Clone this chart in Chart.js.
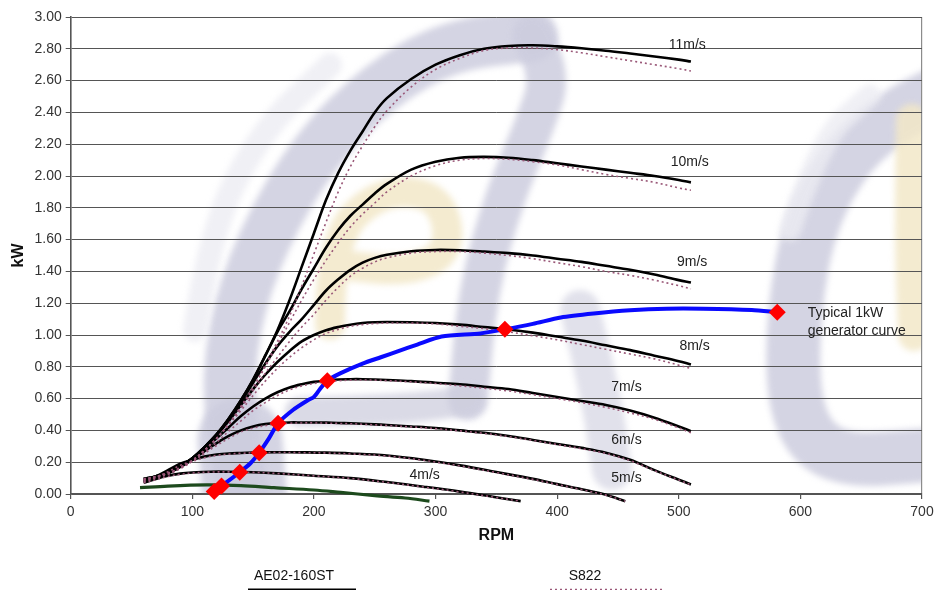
<!DOCTYPE html>
<html>
<head>
<meta charset="utf-8">
<script src="https://cdn.jsdelivr.net/npm/chart.js@4.4.1/dist/chart.umd.min.js"></script>
<style>
  html, body { margin: 0; padding: 0; background: #ffffff; }
  #wrap { width: 936px; height: 590px; position: relative; }
</style>
</head>
<body>
<div id="wrap"><canvas id="c" width="936" height="590"></canvas></div>
<script>
// Rotor speed grid (RPM) shared by the 6–11 m/s power curves
const rpmGrid = [60,70,80,90,100,110,120,130,140,150,160,170,180,190,200,210,220,230,240,250,260,280,300,320,340,360,380,400,420,440,460,480,500,510];

// AE02-160ST rotor power (kW) at each wind speed
const ae11 = [0.095,0.11,0.135,0.175,0.225,0.295,0.375,0.475,0.59,0.72,0.87,1.03,1.22,1.43,1.64,1.85,2.02,2.16,2.28,2.40,2.49,2.61,2.70,2.76,2.80,2.818,2.822,2.815,2.803,2.788,2.77,2.752,2.732,2.72];
const ae10 = [0.095,0.11,0.135,0.175,0.225,0.295,0.375,0.475,0.59,0.72,0.87,1.02,1.15,1.29,1.42,1.55,1.66,1.75,1.82,1.89,1.95,2.04,2.09,2.115,2.12,2.115,2.10,2.08,2.06,2.04,2.02,2.00,1.975,1.96];
const ae9  = [0.09,0.11,0.135,0.175,0.225,0.295,0.375,0.47,0.58,0.70,0.82,0.93,1.02,1.10,1.19,1.28,1.35,1.41,1.455,1.485,1.505,1.527,1.535,1.533,1.525,1.515,1.50,1.48,1.46,1.435,1.41,1.38,1.345,1.33];
const ae8  = [0.09,0.11,0.135,0.175,0.225,0.29,0.37,0.46,0.56,0.66,0.75,0.83,0.90,0.96,1.00,1.03,1.05,1.065,1.075,1.08,1.082,1.08,1.075,1.065,1.05,1.035,1.015,0.99,0.965,0.935,0.905,0.87,0.835,0.815];
const ae7  = [0.085,0.105,0.13,0.17,0.22,0.28,0.35,0.42,0.49,0.55,0.60,0.64,0.67,0.69,0.705,0.713,0.72,0.722,0.722,0.72,0.717,0.71,0.70,0.69,0.675,0.66,0.635,0.61,0.585,0.56,0.525,0.48,0.425,0.395];
const ae6  = [0.08,0.10,0.13,0.17,0.215,0.27,0.32,0.365,0.40,0.425,0.44,0.447,0.45,0.45,0.45,0.449,0.447,0.445,0.442,0.438,0.434,0.425,0.415,0.40,0.385,0.365,0.34,0.315,0.29,0.26,0.215,0.15,0.09,0.06];

// S822 aerofoil rotor power (kW) at each wind speed
const s11 = [0.095,0.11,0.13,0.165,0.21,0.275,0.35,0.44,0.55,0.67,0.81,0.96,1.12,1.31,1.51,1.71,1.90,2.06,2.19,2.31,2.41,2.56,2.67,2.74,2.79,2.805,2.805,2.795,2.775,2.75,2.725,2.70,2.675,2.66];
const s10 = [0.095,0.11,0.13,0.165,0.21,0.275,0.35,0.44,0.55,0.67,0.80,0.94,1.08,1.22,1.35,1.47,1.58,1.68,1.76,1.83,1.90,2.00,2.065,2.10,2.11,2.105,2.09,2.07,2.04,2.01,1.985,1.96,1.925,1.91];
const s9  = [0.09,0.11,0.13,0.165,0.21,0.275,0.35,0.44,0.54,0.65,0.76,0.86,0.96,1.05,1.13,1.22,1.30,1.37,1.42,1.46,1.485,1.515,1.525,1.525,1.515,1.50,1.48,1.455,1.43,1.40,1.375,1.345,1.31,1.29];
const s8  = [0.09,0.11,0.13,0.165,0.21,0.275,0.35,0.435,0.525,0.62,0.71,0.79,0.86,0.92,0.97,1.01,1.035,1.055,1.065,1.072,1.075,1.075,1.07,1.055,1.04,1.02,0.995,0.97,0.94,0.91,0.88,0.85,0.81,0.79];
const s7  = [0.085,0.105,0.125,0.16,0.205,0.26,0.325,0.395,0.46,0.525,0.575,0.62,0.655,0.68,0.695,0.705,0.712,0.716,0.717,0.716,0.713,0.705,0.695,0.68,0.665,0.648,0.625,0.60,0.575,0.545,0.51,0.47,0.415,0.385];
const s6  = [0.08,0.10,0.125,0.16,0.205,0.255,0.305,0.35,0.39,0.415,0.43,0.44,0.445,0.447,0.447,0.446,0.444,0.442,0.439,0.435,0.431,0.422,0.411,0.397,0.381,0.361,0.337,0.311,0.285,0.255,0.21,0.147,0.088,0.057];

// Low wind speeds fall below zero sooner, so they have their own RPM ranges
const rpm5 = [60,70,80,90,100,110,120,130,140,155,170,190,210,230,260,290,320,350,380,400,420,440,456];
const ae5  = [0.075,0.11,0.15,0.19,0.215,0.235,0.248,0.255,0.258,0.262,0.263,0.262,0.26,0.255,0.242,0.215,0.18,0.138,0.095,0.062,0.03,-0.005,-0.045];
const s5   = [0.075,0.105,0.14,0.18,0.205,0.228,0.243,0.251,0.256,0.26,0.261,0.26,0.258,0.252,0.239,0.212,0.177,0.135,0.092,0.06,0.028,-0.007,-0.045];
const rpm4 = [60,70,80,90,100,115,130,150,170,200,230,260,290,320,347,370];
const ae4  = [0.07,0.095,0.115,0.128,0.135,0.14,0.14,0.137,0.13,0.115,0.10,0.075,0.046,0.015,-0.017,-0.045];
const s4   = [0.07,0.09,0.11,0.124,0.132,0.138,0.139,0.136,0.129,0.114,0.098,0.073,0.044,0.013,-0.019,-0.045];
const rpm3 = [57,80,112,140,167,200,222,250,275,295];
const ae3  = [0.04,0.05,0.057,0.053,0.04,0.025,0.01,-0.01,-0.025,-0.045];

// Typical 1kW generator curve and its marked operating points
const genRpm = [118,124,139,148,155,163,170.5,183,195,200,205,211,222,240,255,270,285,305,337,357,380,403,430,460,490,520,560,581];
const genKw  = [0.015,0.05,0.137,0.195,0.26,0.35,0.445,0.53,0.59,0.61,0.66,0.713,0.76,0.82,0.86,0.90,0.94,0.99,1.01,1.036,1.07,1.11,1.135,1.155,1.165,1.165,1.157,1.143];
const markRpm = [118,124,139,155,170.5,211,357,581];
const markKw  = [0.015,0.05,0.137,0.26,0.445,0.713,1.036,1.143];

// Wind-speed captions, anchored in chart units (RPM, kW)
const windLabels = ['11m/s','10m/s','9m/s','8m/s','7m/s','6m/s','5m/s','4m/s'];
const windLabelRpm = [507,509,511,513,457,457,457,291];
const windLabelKw  = [2.824,2.088,1.459,0.931,0.673,0.34,0.10,0.12];
const genNote = ['Typical 1kW', 'generator curve'];
const genNoteRpm = 606;
const genNoteKw = [1.138, 1.025];

const FONT = '"Liberation Sans", Arial, Helvetica, sans-serif';
const AE_COLOR = '#000000';
const S822_COLOR = '#9a5878';

function pts(xs, ys) { return xs.map((x, i) => ({ x: x, y: ys[i] })); }

const aeSeries = [[rpmGrid, ae11],[rpmGrid, ae10],[rpmGrid, ae9],[rpmGrid, ae8],[rpmGrid, ae7],[rpmGrid, ae6],[rpm5, ae5],[rpm4, ae4]];
const sSeries  = [[rpmGrid, s11],[rpmGrid, s10],[rpmGrid, s9],[rpmGrid, s8],[rpmGrid, s7],[rpmGrid, s6],[rpm5, s5],[rpm4, s4]];

const lineBase = { pointRadius: 0, fill: false, tension: 0.35, clip: { left: 0, top: 0, right: 0, bottom: 12 } };

const datasets = [];
// first entries are painted last (on top)
datasets.push({ type: 'scatter', label: 'points', data: pts(markRpm, markKw), pointStyle: 'rectRot',
  pointRadius: 8.5, backgroundColor: '#ff0000', borderColor: '#ff0000', borderWidth: 0, showLine: false, clip: false });
datasets.push(Object.assign({}, lineBase, { label: 'Typical 1kW generator curve', data: pts(genRpm, genKw), borderColor: '#0a0aff', borderWidth: 4, tension: 0.25 }));
sSeries.forEach(([xs, ys]) => datasets.push(Object.assign({}, lineBase, { label: 'S822', data: pts(xs, ys),
  borderColor: S822_COLOR, borderWidth: 1.6, borderDash: [2, 3] })));
aeSeries.forEach(([xs, ys]) => datasets.push(Object.assign({}, lineBase, { label: 'AE02-160ST', data: pts(xs, ys),
  borderColor: AE_COLOR, borderWidth: 2.6 })));
datasets.push(Object.assign({}, lineBase, { label: '3m/s', data: pts(rpm3, ae3), borderColor: '#1d4a1d', borderWidth: 3.2 }));

// Faint company logo printed behind the plot area
const backdropLogo = {
  id: 'backdropLogo',
  beforeDraw(chart) {
    const { ctx, chartArea: a } = chart;
    const lav = 'rgba(205,205,222,0.85)';
    const strokes = [
      { c: lav, w: 85, p: [[245,500],[240,440]] },
      { c: lav, w: 52, p: [[245,500],[228,420],[232,330],[262,240],[315,150],[380,85],[450,45],[532,36]] },
      { c: lav, w: 40, p: [[532,36],[552,72],[535,125],[505,195],[478,290],[468,400]] },
      { c: 'rgba(205,205,222,0.75)', w: 30, p: [[300,412],[380,410],[440,405],[468,400]] },
      { c: 'rgba(205,205,222,0.6)',  w: 40, p: [[580,310],[600,390],[612,470]] },
      { c: 'rgba(236,236,243,0.8)',  w: 24, p: [[195,330],[210,230],[262,130],[330,65]] },
      { c: 'rgba(242,232,200,0.85)', w: 30, p: [[330,325],[330,240],[380,190],[440,195],[452,250],[410,272],[340,265]] },
      { c: lav, w: 54, p: [[935,95],[870,125],[812,210],[792,320],[795,420],[835,462],[930,455]] },
      { c: 'rgba(236,236,243,0.8)',  w: 22, p: [[790,230],[820,140],[870,95]] },
      { c: 'rgba(242,232,200,0.85)', w: 32, p: [[912,120],[910,230],[914,335]] }
    ];
    ctx.save();
    ctx.beginPath();
    ctx.rect(a.left, a.top, a.right - a.left, a.bottom - a.top);
    ctx.clip();
    ctx.filter = 'blur(3px)';
    ctx.lineCap = 'round';
    ctx.lineJoin = 'round';
    strokes.forEach(s => {
      ctx.strokeStyle = s.c;
      ctx.lineWidth = s.w;
      ctx.beginPath();
      ctx.moveTo(s.p[0][0], s.p[0][1]);
      for (let i = 1; i < s.p.length - 1; i++) {
        const mx = (s.p[i][0] + s.p[i + 1][0]) / 2, my = (s.p[i][1] + s.p[i + 1][1]) / 2;
        ctx.quadraticCurveTo(s.p[i][0], s.p[i][1], mx, my);
      }
      const last = s.p[s.p.length - 1];
      ctx.lineTo(last[0], last[1]);
      ctx.stroke();
    });
    ctx.restore();
  }
};

const curveLabels = {
  id: 'curveLabels',
  afterDatasetsDraw(chart) {
    const { ctx, scales: { x, y } } = chart;
    ctx.save();
    ctx.font = '14px ' + FONT;
    ctx.fillStyle = '#222';
    ctx.textBaseline = 'middle';
    ctx.textAlign = 'center';
    windLabels.forEach((t, i) => ctx.fillText(t, x.getPixelForValue(windLabelRpm[i]), y.getPixelForValue(windLabelKw[i])));
    ctx.textAlign = 'left';
    genNote.forEach((t, i) => ctx.fillText(t, x.getPixelForValue(genNoteRpm), y.getPixelForValue(genNoteKw[i])));
    ctx.restore();
  }
};

// Legend set below the axis title: name above a sample of the line style
const bottomLegend = {
  id: 'bottomLegend',
  afterDraw(chart) {
    const { ctx } = chart;
    const items = [
      { text: 'AE02-160ST', cx: 294, lx0: 248, lx1: 356, color: AE_COLOR, width: 2, dash: [] },
      { text: 'S822', cx: 585, lx0: 550, lx1: 663, color: S822_COLOR, width: 1.4, dash: [2, 3] }
    ];
    ctx.save();
    ctx.font = '14px ' + FONT;
    ctx.fillStyle = '#111';
    ctx.textAlign = 'center';
    ctx.textBaseline = 'middle';
    items.forEach(it => {
      ctx.fillText(it.text, it.cx, 576);
      ctx.beginPath();
      ctx.setLineDash(it.dash);
      ctx.strokeStyle = it.color;
      ctx.lineWidth = it.width;
      ctx.moveTo(it.lx0, 589.5);
      ctx.lineTo(it.lx1, 589.5);
      ctx.stroke();
    });
    ctx.restore();
  }
};

new Chart(document.getElementById('c'), {
  type: 'line',
  data: { datasets: datasets },
  options: {
    responsive: false,
    animation: false,
    events: [],
    layout: { padding: { left: 0, right: 14, top: 17, bottom: 41 } },
    plugins: { legend: { display: false }, tooltip: { enabled: false } },
    scales: {
      x: {
        type: 'linear', min: 0, max: 700,
        ticks: { stepSize: 100, color: '#333', padding: 5, font: { family: FONT, size: 14 } },
        grid: {
          drawOnChartArea: true,
          color: c => (c.tick && c.tick.value === 700 ? '#8c8c8c' : 'rgba(0,0,0,0)'),
          tickColor: '#555', tickLength: 5, lineWidth: 1.2
        },
        border: { color: '#555', width: 1.6 },
        title: { display: true, text: 'RPM', color: '#111', font: { family: FONT, size: 16, weight: 'bold' }, padding: { top: 0, bottom: 4 } },
        afterFit: s => { s.height = 55; s.paddingLeft = 0; s.paddingRight = 10; }
      },
      y: {
        type: 'linear', min: 0, max: 3,
        ticks: { stepSize: 0.2, color: '#333', padding: 4, font: { family: FONT, size: 14 }, callback: v => Number(v).toFixed(2) },
        grid: { color: '#555', lineWidth: 1, tickColor: '#555', tickLength: 5 },
        border: { color: '#555', width: 1.6 },
        title: { display: true, text: 'kW', color: '#111', font: { family: FONT, size: 16, weight: 'bold' }, padding: { top: 9, bottom: 0 } },
        afterFit: s => { s.width = 70.7; }
      }
    }
  },
  plugins: [backdropLogo, curveLabels, bottomLegend]
});
</script>
</body>
</html>
